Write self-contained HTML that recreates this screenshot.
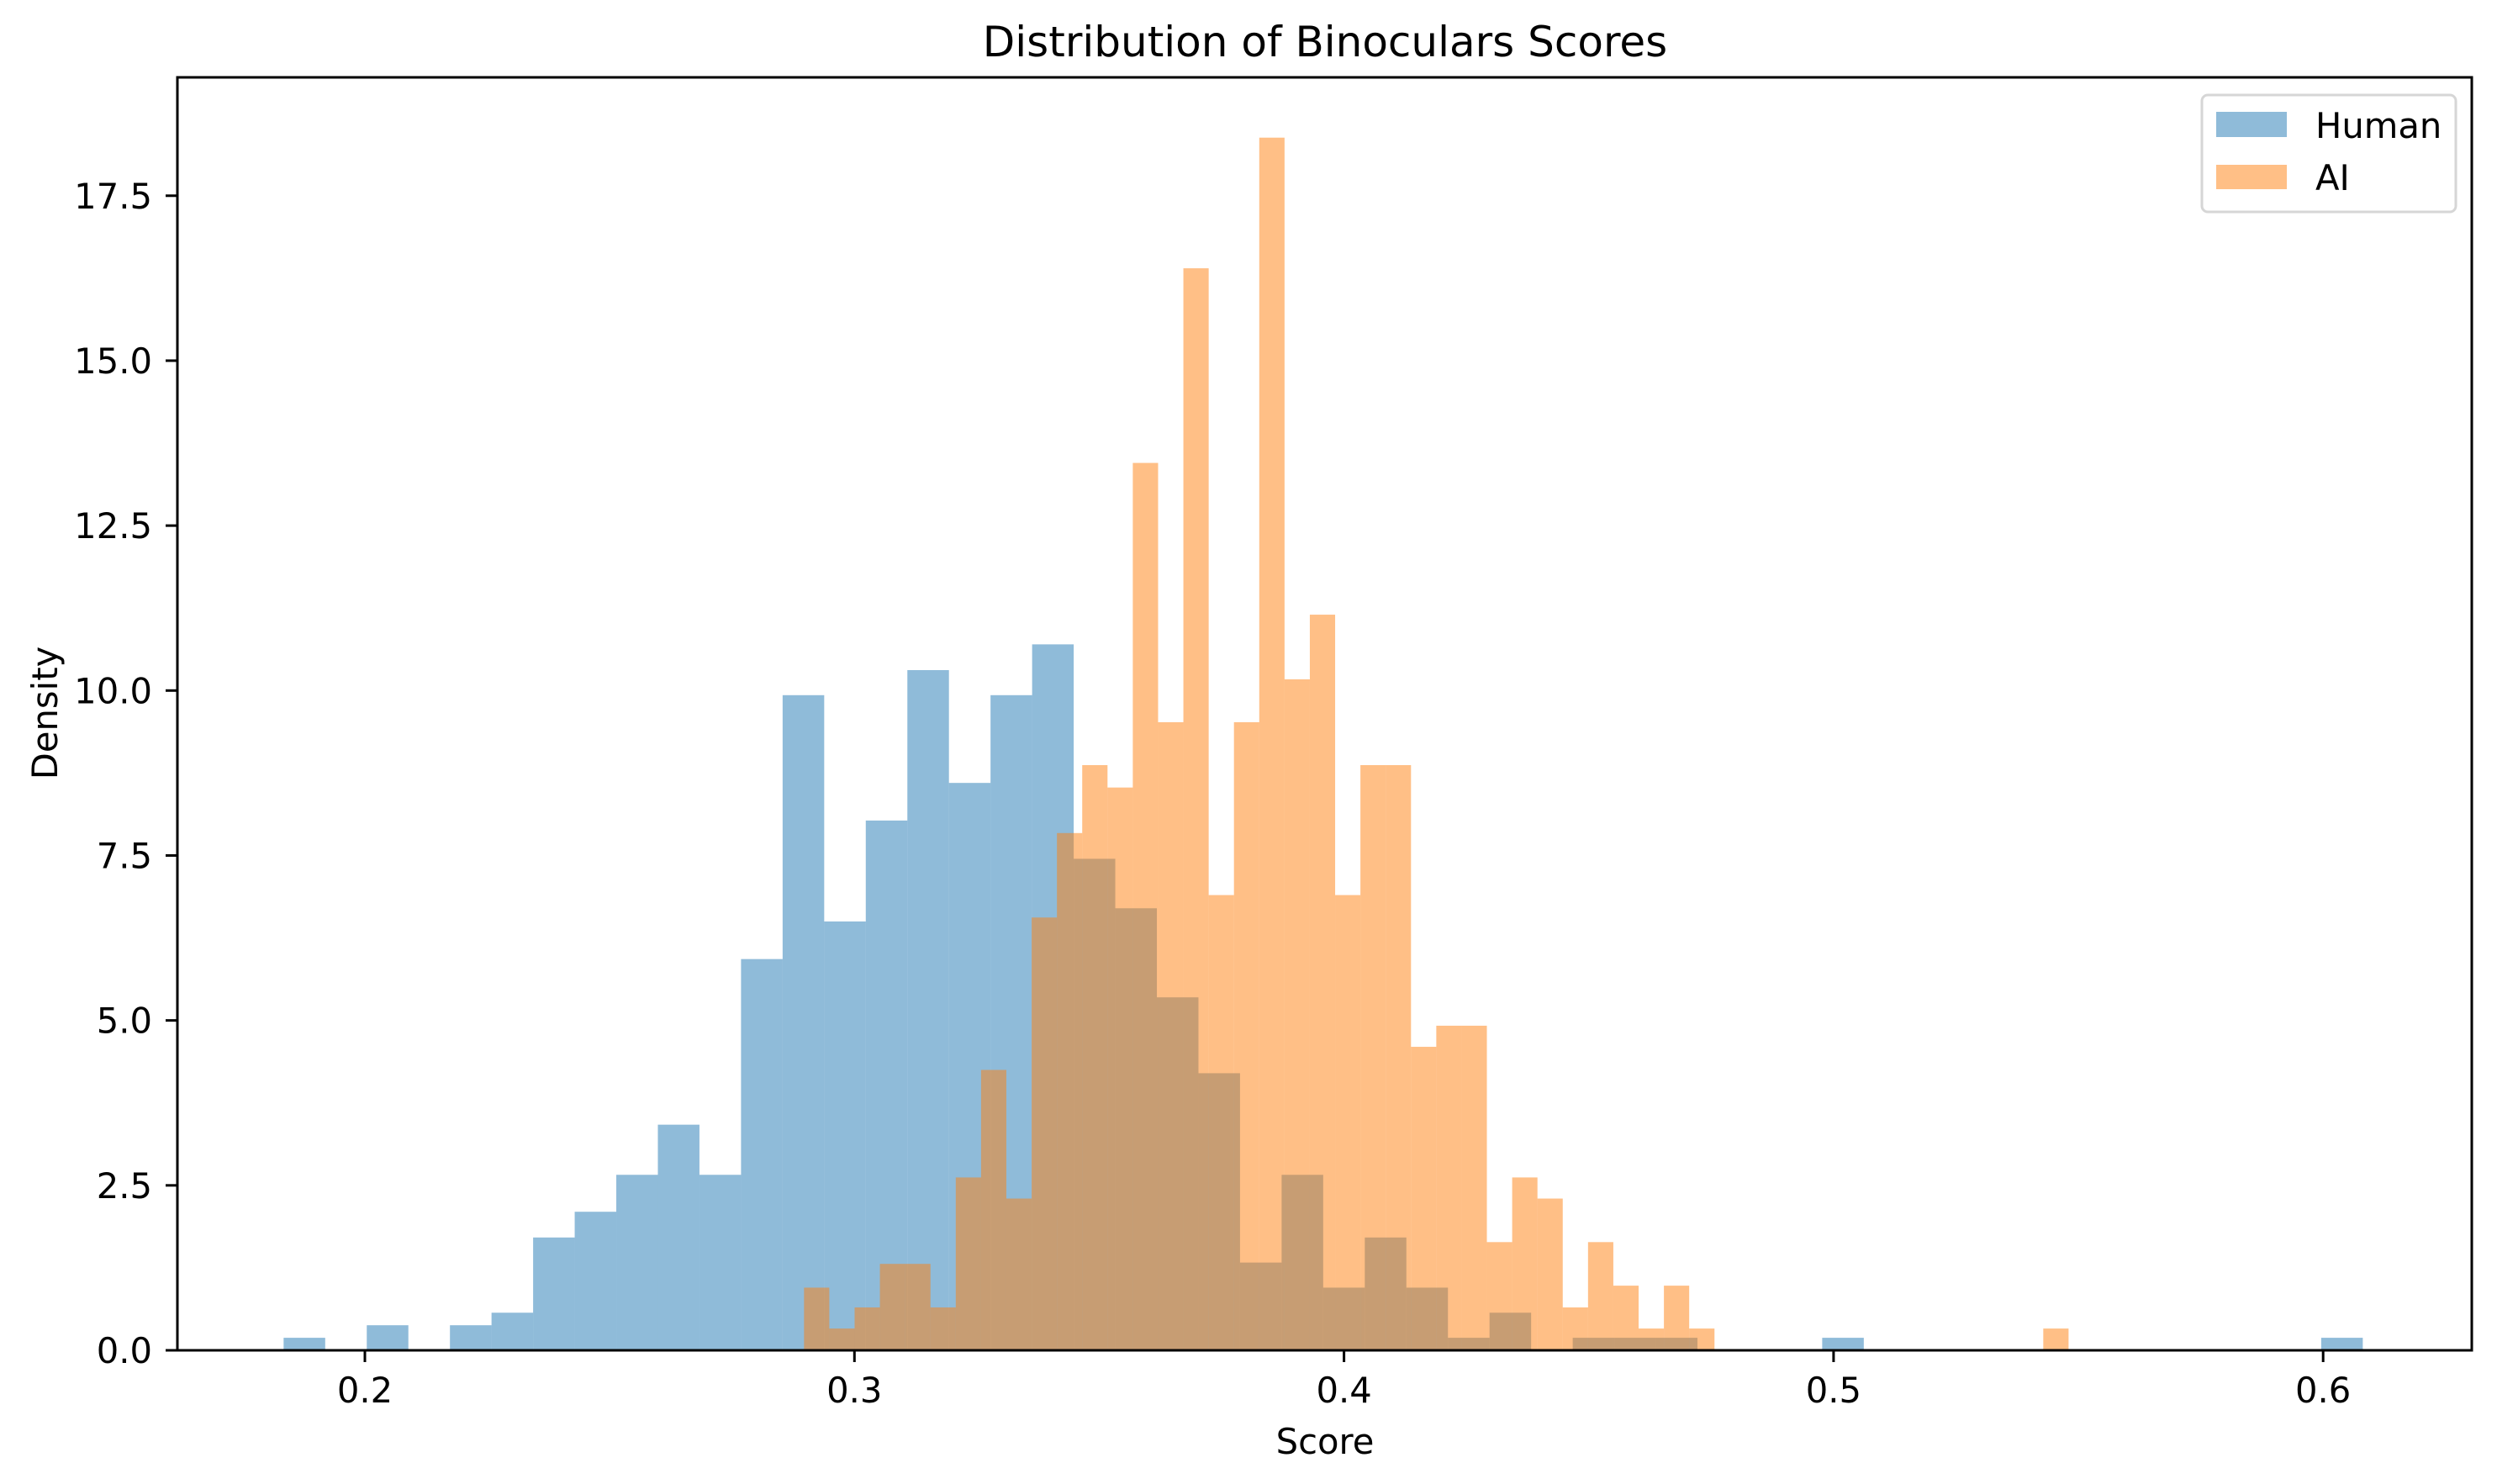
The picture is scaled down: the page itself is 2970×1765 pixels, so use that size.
<!DOCTYPE html>
<html><head><meta charset="utf-8"><style>
html,body{margin:0;padding:0;background:#fff;}
svg{display:block;font-family:"DejaVu Sans","Liberation Sans",sans-serif;}
</style></head><body>
<svg id="chart" width="2970" height="1765" viewBox="0 0 2970 1765" xmlns="http://www.w3.org/2000/svg">
<rect x="0" y="0" width="2970" height="1765" fill="#fff"/>
<g id="bars"></g>
<g id="axes"></g>
<text x="1576" y="67" font-size="50" text-anchor="middle">Distribution of Binoculars Scores</text>
<text x="1576" y="1729" font-size="41.7" text-anchor="middle">Score</text>
<text x="0" y="0" font-size="41.7" text-anchor="middle" transform="translate(68,848) rotate(-90)">Density</text>
<g>
<rect x="2619" y="113" width="302" height="139" rx="7" fill="#fff" fill-opacity="0.8" stroke="#d6d6d6" stroke-width="3"/>
<rect x="2636" y="133" width="84" height="30" fill="#1f77b4" fill-opacity="0.5"/>
<text x="2754" y="164" font-size="41.7">Human</text>
<rect x="2636" y="196" width="84" height="29" fill="#ff7f0e" fill-opacity="0.5"/>
<text x="2754" y="226" font-size="41.7">AI</text>
</g>
</svg>
<script>
const humanStart = 0.1834;
const humanWidth = 0.008494;
const humanValues = [0.19,0,0.38,0,0.38,0.57,1.71,2.1,2.66,3.42,2.66,5.93,9.93,6.5,8.03,10.31,8.6,9.93,10.7,7.45,6.7,5.35,4.2,1.33,2.66,0.95,1.71,0.95,0.19,0.57,0,0.19,0.19,0.19,0,0,0,0.19,0,0,0,0,0,0,0,0,0,0,0,0.19];
const aiStart = 0.2897;
const aiWidth = 0.005166;
const aiValues = [0.95,0.33,0.65,1.31,1.31,0.65,2.62,4.25,2.3,6.56,7.84,8.87,8.53,13.45,9.52,16.4,6.9,9.52,18.38,10.17,11.15,6.9,8.87,8.87,4.6,4.92,4.92,1.64,2.62,2.3,0.65,1.64,0.98,0.33,0.98,0.33,0,0,0,0,0,0,0,0,0,0,0,0,0,0.33];
const xTicks = [0.2,0.3,0.4,0.5,0.6];
const xTickLabels = ["0.2","0.3","0.4","0.5","0.6"];
const yTicks = [0,2.5,5,7.5,10,12.5,15,17.5];
const yTickLabels = ["0.0","2.5","5.0","7.5","10.0","12.5","15.0","17.5"];

const L=211,R=2940,T=92,B=1606;
function xs(v){return 434 + (v-0.2)*5823;}
function ys(v){return B - v*78.47;}
const NS="http://www.w3.org/2000/svg";
const bars=document.getElementById('bars');
function drawSeries(start,w,vals,color,name){
  vals.forEach((v,i)=>{
    if(v<=0) return;
    const x0=xs(start+i*w), x1=xs(start+(i+1)*w);
    const r=document.createElementNS(NS,'rect');
    r.setAttribute('x',x0);r.setAttribute('width',x1-x0);
    r.setAttribute('y',ys(v));r.setAttribute('height',B-ys(v));
    r.setAttribute('fill',color);r.setAttribute('fill-opacity','0.5');
    
    
    bars.appendChild(r);
  });
}
drawSeries(humanStart,humanWidth,humanValues,'#1f77b4','human');
drawSeries(aiStart,aiWidth,aiValues,'#ff7f0e','ai');

const axes=document.getElementById('axes');
const frame=document.createElementNS(NS,'rect');
frame.setAttribute('x',L);frame.setAttribute('y',T);frame.setAttribute('width',R-L);frame.setAttribute('height',B-T);
frame.setAttribute('fill','none');frame.setAttribute('stroke','#000');frame.setAttribute('stroke-width','3');


axes.appendChild(frame);
xTicks.forEach((t,i)=>{
  const x=xs(t);
  const l=document.createElementNS(NS,'line');
  l.setAttribute('x1',x);l.setAttribute('x2',x);l.setAttribute('y1',B);l.setAttribute('y2',B+14);
  l.setAttribute('stroke','#000');l.setAttribute('stroke-width','3');
  
  
  axes.appendChild(l);
  const tx=document.createElementNS(NS,'text');
  tx.setAttribute('x',x);tx.setAttribute('y',1668);tx.setAttribute('font-size','41.7');tx.setAttribute('text-anchor','middle');
  tx.textContent=xTickLabels[i];
  
  
  axes.appendChild(tx);
});
yTicks.forEach((t,i)=>{
  const y=ys(t);
  const l=document.createElementNS(NS,'line');
  l.setAttribute('x1',L-14);l.setAttribute('x2',L);l.setAttribute('y1',y);l.setAttribute('y2',y);
  l.setAttribute('stroke','#000');l.setAttribute('stroke-width','3');
  
  
  axes.appendChild(l);
  const tx=document.createElementNS(NS,'text');
  tx.setAttribute('x',181);tx.setAttribute('y',y+15);tx.setAttribute('font-size','41.7');tx.setAttribute('text-anchor','end');
  tx.textContent=yTickLabels[i];
  
  
  axes.appendChild(tx);
});
</script>
</body></html>
